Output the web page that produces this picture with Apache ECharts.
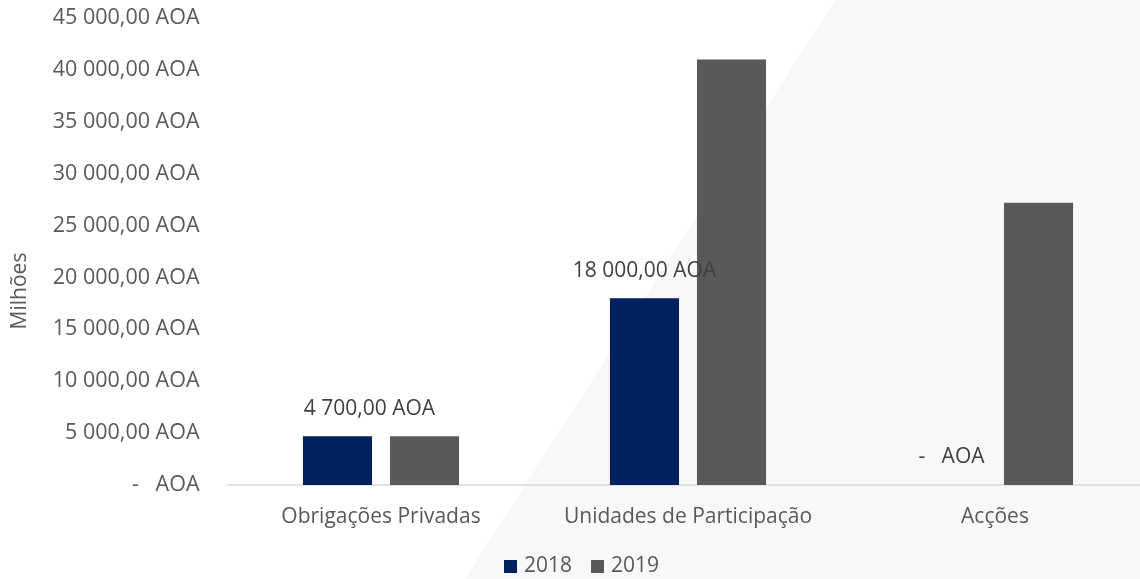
<!DOCTYPE html>
<html>
<head>
<meta charset="utf-8">
<script src="https://cdn.jsdelivr.net/npm/echarts@6/dist/echarts.min.js"></script>
<style>
  html, body { margin: 0; padding: 0; background: #fff; overflow: hidden; }
  #chart { width: 1150px; height: 579px; }
</style>
</head>
<body>
<div id="chart"></div>
<script>
const categories = ['Obrigações Privadas', 'Unidades de Participação', 'Acções']
const values2018 = [4700, 18000, 0]
const values2019 = [4700, 41000, 27200]
const seriesNames = ['2018', '2019']

const fontFamily = '"Open Sans", sans-serif'

// 45 000,00 AOA  /  -   AOA
function fmtAOA(v) {
  if (!v) return '-   AOA'
  const parts = v.toFixed(2).split('.')
  const intPart = parts[0].replace(/\B(?=(\d{3})+(?!\d))/g, ' ')
  return intPart + ',' + parts[1] + ' AOA'
}

// canvas is a bit wider than the window, the plot runs past the right edge
const chart = echarts.init(document.getElementById('chart'))

chart.setOption({
  animation: false,
  textStyle: { fontFamily },
  graphic: [
    {
      type: 'polygon',
      z: -10,
      silent: true,
      shape: { points: [[835, 0], [1150, 0], [1150, 579], [465, 579]] },
      style: { fill: '#f8f8f8' }
    },
    {
      type: 'text',
      x: 20,
      y: 291,
      rotation: Math.PI / 2,
      style: {
        text: 'Milhões',
        fill: '#595959',
        fontSize: 21,
        fontFamily,
        align: 'center',
        verticalAlign: 'middle'
      }
    }
  ],
  grid: {
    top: 18,
    left: 227.5,
    right: 1.5,
    bottom: 94
  },
  legend: {
    top: 556,
    left: 504,
    padding: 0,
    itemWidth: 13,
    itemHeight: 13,
    itemGap: 19,
    icon: 'rect',
    textStyle: { color: '#595959', fontSize: 21, fontFamily, padding: [0, 0, 0, 2] },
    data: seriesNames
  },
  xAxis: {
    type: 'category',
    data: categories,
    axisLine: { lineStyle: { color: '#d9d9d9', width: 1.5 } },
    axisTick: { show: false },
    axisLabel: { color: '#595959', fontSize: 21, margin: 22, interval: 0, fontFamily }
  },
  yAxis: {
    type: 'value',
    min: 0,
    max: 45000,
    interval: 5000,
    splitLine: { show: false },
    axisLine: { show: false },
    axisTick: { show: false },
    axisLabel: {
      color: '#595959',
      fontSize: 21.5,
      margin: 28,
      fontFamily,
      formatter: fmtAOA
    }
  },
  series: [
    {
      name: seriesNames[0],
      type: 'bar',
      data: values2018.map((v, i) => i === 0
        ? { value: v, label: { offset: [32, 0] } }
        : v),
      barWidth: '22.5%',
      barGap: '26%',
      itemStyle: { color: '#002060' },
      label: {
        show: true,
        position: 'top',
        distance: 17,
        color: '#404040',
        fontSize: 21,
        fontFamily,
        formatter: p => fmtAOA(p.value)
      },
      z: 3
    },
    {
      name: seriesNames[1],
      type: 'bar',
      data: values2019,
      barWidth: '22.5%',
      itemStyle: { color: '#595959' },
      z: 2
    }
  ]
})
</script>
</body>
</html>
